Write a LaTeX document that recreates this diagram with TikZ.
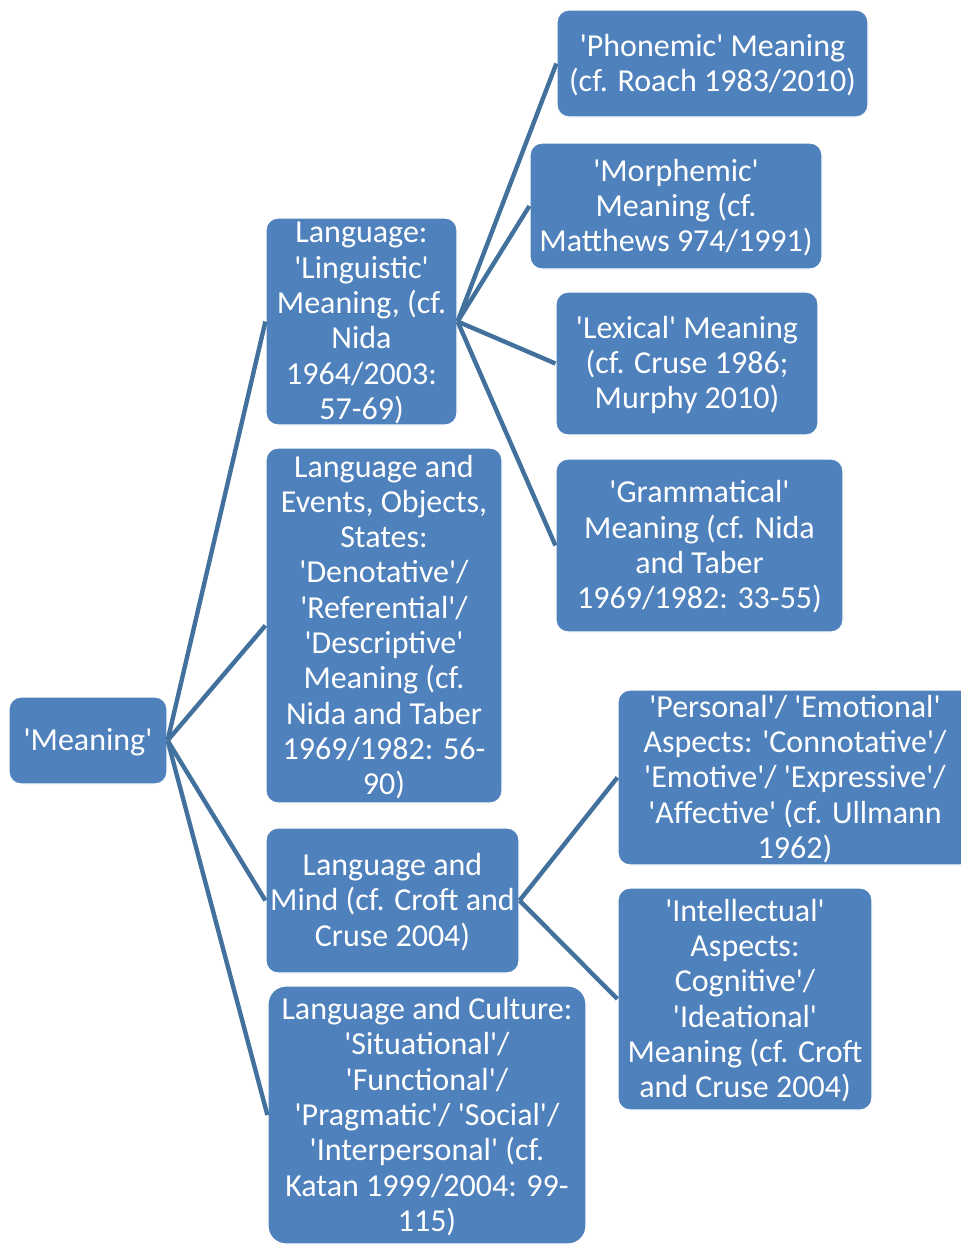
\documentclass[tikz,border=0pt]{standalone}
\usepackage{fontspec}
\newfontfamily\carl{Carlito}
\definecolor{boxblue}{HTML}{4F81BD}
\definecolor{linkblue}{HTML}{41719C}
\begin{document}
\begin{tikzpicture}[x=1pt,y=-1pt,
  box/.style={draw=white,line width=1.2pt,fill=boxblue,rounded corners=12pt,inner sep=0pt},
  txt/.style={text=white,align=center,inner sep=0pt,yshift=-1.5pt,font=\carl\fontsize{32}{35.3}\selectfont},
  link/.style={draw=linkblue,line width=4.4pt}]
\useasboundingbox (0,0) rectangle (961,1245);
% level 1
\node[box,minimum width=158pt,minimum height=87pt] (mean) at (88,740.5) {};
% level 2
\node[box,minimum width=191pt,minimum height=207pt] (ling) at (361.5,321.5) {};
\node[box,minimum width=236pt,minimum height=355pt] (deno) at (384,625.5) {};
\node[box,minimum width=253pt,minimum height=145pt] (mind) at (392.5,900.5) {};
\node[box,minimum width=318pt,minimum height=258pt,rounded corners=18pt] (cult) at (427,1115) {};
% level 3
\node[box,minimum width=311pt,minimum height=107pt] (phon) at (712.5,63.5) {};
\node[box,minimum width=292pt,minimum height=126pt] (morph) at (676,206) {};
\node[box,minimum width=262pt,minimum height=143pt] (lex) at (687,363.5) {};
\node[box,minimum width=287pt,minimum height=173pt] (gram) at (699.5,545.5) {};
\node[box,minimum width=354pt,minimum height=175pt] (pers) at (795,777.5) {};
\node[box,minimum width=254pt,minimum height=222pt] (intel) at (745,999) {};
% connectors
\foreach \c in {ling,deno,mind,cult} \draw[link] (mean.east) -- (\c.west);
\foreach \c in {phon,morph,lex,gram} \draw[link] (ling.east) -- (\c.west);
\foreach \c in {pers,intel} \draw[link] (mind.east) -- (\c.west);
% texts
\node[txt] (tmean) at (mean.center) {'Meaning'};
\node[txt] (tling) at (ling.center) {Language:\\'Linguistic'\\Meaning, (cf.\\Nida\\1964/2003:\\57-69)};
\node[txt] (tdeno) at (deno.center) {Language and\\Events, Objects,\\States:\\'Denotative'/\\'Referential'/\\'Descriptive'\\Meaning (cf.\\Nida and Taber\\1969/1982: 56-\\90)};
\node[txt] (tmind) at (mind.center) {Language and\\Mind (cf. Croft and\\Cruse 2004)};
\node[txt] (tcult) at (cult.center) {Language and Culture:\\'Situational'/\\'Functional'/\\'Pragmatic'/ 'Social'/\\'Interpersonal' (cf.\\Katan 1999/2004: 99-\\115)};
\node[txt] (tphon) at (phon.center) {'Phonemic' Meaning\\(cf. Roach 1983/2010)};
\node[txt] (tmorph) at (morph.center) {'Morphemic'\\Meaning (cf.\\Matthews 974/1991)};
\node[txt] (tlex) at (lex.center) {'Lexical' Meaning\\(cf. Cruse 1986;\\Murphy 2010)};
\node[txt] (tgram) at (gram.center) {'Grammatical'\\Meaning (cf. Nida\\and Taber\\1969/1982: 33-55)};
\node[txt] (tpers) at (pers.center) {'Personal'/ 'Emotional'\\Aspects: 'Connotative'/\\'Emotive'/ 'Expressive'/\\'Affective' (cf. Ullmann\\1962)};
\node[txt] (tintel) at (intel.center) {'Intellectual'\\Aspects:\\Cognitive'/\\'Ideational'\\Meaning (cf. Croft\\and Cruse 2004)};
\end{tikzpicture}
\end{document}
